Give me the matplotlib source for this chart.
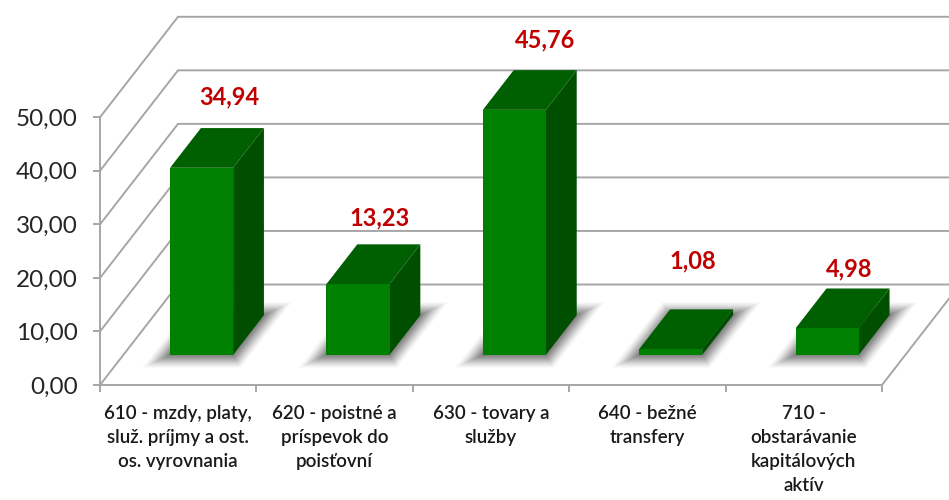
import matplotlib
matplotlib.use("Agg")
import matplotlib.pyplot as plt
from matplotlib.patches import Polygon

# Data
kategorie = [
    "610 - mzdy, platy,\nslu\u017e. pr\u00edjmy a ost.\nos. vyrovnania",
    "620 - poistn\u00e9 a\npr\u00edspevok do\npois\u0165ovn\u00ed",
    "630 - tovary a\nslu\u017eby",
    "640 - be\u017en\u00e9\ntransfery",
    "710 -\nobstar\u00e1vanie\nkapit\u00e1lov\u00fdch\nakt\u00edv",
]
hodnoty = [34.94, 13.23, 45.76, 1.08, 4.98]
popisky = ["34,94", "13,23", "45,76", "1,08", "4,98"]
y_ticks = [0, 10, 20, 30, 40, 50]
y_labels = ["0,00", "10,00", "20,00", "30,00", "40,00", "50,00"]

# Manually moved labels in the original (pixels from front top centre of the bar)
posun_popisku = [(28, 71), (22, 66), (31, 70), (21.5, 88), (21.5, 59)]

# 3D look: how far the back wall sits from the front edge, in data units
HLBKA_X = 78 / 156.4
HLBKA_Y = 100.5 / 5.354
BAR_W = 0.403
D0, D1 = 0.30, 0.695

GRID = "#a6a6a6"
PREDOK = "#008000"
VRCH = "#005f00"
BOK = "#004e00"
TEXT = "#262626"
FONT = "Lato"


def proj(x, v, d):
    # shift a point (category, value) back by depth d
    return (x + d * HLBKA_X, v + d * HLBKA_Y)


fig = plt.figure(figsize=(9.49, 5.0), dpi=100, facecolor="white")
ax = fig.add_axes([100 / 949, 115 / 500, 782 / 949, 267.7 / 500])
ax.set_xlim(0, 5)
ax.set_ylim(0, 50)
ax.patch.set_visible(False)

for s in ["top", "right"]:
    ax.spines[s].set_visible(False)
for s in ["left", "bottom"]:
    ax.spines[s].set_color(GRID)
    ax.spines[s].set_linewidth(1.4)

ax.set_yticks(y_ticks)
ax.set_yticklabels(y_labels, fontsize=17.5, color=TEXT, family=FONT)
ax.set_xticks(range(6))
ax.set_xticklabels([])
ax.tick_params(axis="both", color=GRID, width=1.4, length=5)
ax.tick_params(axis="y", pad=11)

# Walls and floor
for t in y_ticks:
    a = proj(0, t, 0)
    b = proj(0, t, 1)
    c = proj(5, t, 1)
    ax.plot([a[0], b[0], c[0]], [a[1], b[1], c[1]], color=GRID, lw=1.4,
            clip_on=False, zorder=1, solid_joinstyle="miter")
a = proj(5, 0, 0)
b = proj(5, 0, 1)
ax.plot([a[0], b[0]], [a[1], b[1]], color=GRID, lw=1.4, clip_on=False, zorder=1)

# Bars with a soft shadow on the floor
for i, v in enumerate(hodnoty):
    x0 = i + 0.5 - BAR_W / 2
    x1 = i + 0.5 + BAR_W / 2

    # shadow is a stack of growing faint polygons, weaker towards the outside
    kroky = 24
    for k in range(kroky, 0, -1):
        gx = 0.0048 * k
        gd = 0.0055 * k
        stin = [proj(x0 - gx, 0, D0 - gd), proj(x1 + gx, 0, D0 - gd),
                proj(x1 + gx, 0, D1 + gd), proj(x0 - gx, 0, D1 + gd)]
        ax.add_patch(Polygon(stin, closed=True, facecolor="#505050", edgecolor="none",
                             alpha=0.012 + 0.003 * (kroky - k), clip_on=False, zorder=2))

    bok = [proj(x1, 0, D0), proj(x1, 0, D1), proj(x1, v, D1), proj(x1, v, D0)]
    vrch = [proj(x0, v, D0), proj(x1, v, D0), proj(x1, v, D1), proj(x0, v, D1)]
    predok = [proj(x0, 0, D0), proj(x1, 0, D0), proj(x1, v, D0), proj(x0, v, D0)]
    ax.add_patch(Polygon(bok, closed=True, facecolor=BOK, edgecolor="none", clip_on=False, zorder=3))
    ax.add_patch(Polygon(vrch, closed=True, facecolor=VRCH, edgecolor="none", clip_on=False, zorder=3))
    ax.add_patch(Polygon(predok, closed=True, facecolor=PREDOK, edgecolor="none", clip_on=False, zorder=4))

    # value label
    ax.annotate(popisky[i], xy=proj(i + 0.5, v, D0), xytext=posun_popisku[i],
                textcoords="offset pixels", ha="center", va="center",
                fontsize=17, fontweight="bold", color="#c00000",
                family=FONT, annotation_clip=False, zorder=5)

# Category labels under the axis
for i, nazov in enumerate(kategorie):
    ax.annotate(nazov, xy=(i + 0.5, 0), xytext=(0, -20), textcoords="offset pixels",
                ha="center", va="top", fontsize=13.5, color="#1a1a1a", fontweight="semibold",
                family=FONT, linespacing=1.5, annotation_clip=False)

fig.savefig("out.png", dpi=100)
